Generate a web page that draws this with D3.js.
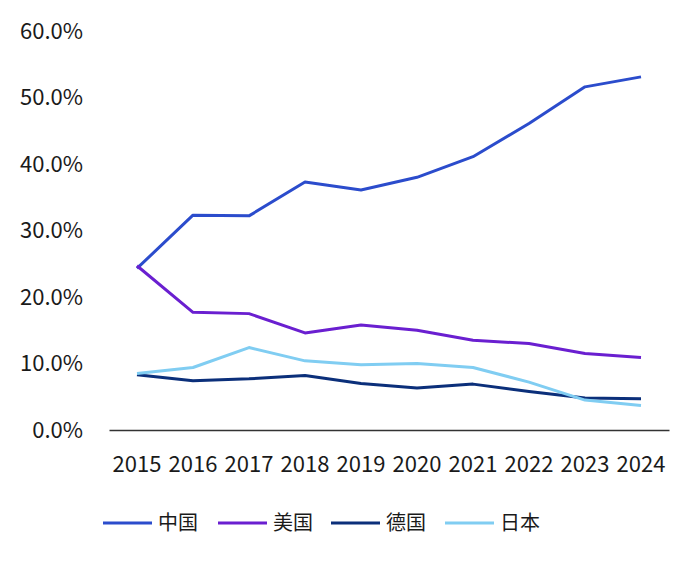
<!DOCTYPE html>
<html>
<head>
<meta charset="utf-8">
<script src="https://cdn.jsdelivr.net/npm/d3@7"></script>
<style>
	body { margin: 0; background: #fff; }
	svg text { font-family: "Noto Sans CJK SC", "Noto Sans", sans-serif; fill: #1a1a1a; }
</style>
</head>
<body>
<svg id="chart" width="700" height="567"></svg>
<script>
	// data (percent)
	const years = [ '2015', '2016', '2017', '2018', '2019', '2020', '2021', '2022', '2023', '2024' ];
	const seriesNames = [ '中国', '美国', '德国', '日本' ];
	const china   = [ 24.3, 32.3, 32.2, 37.3, 36.1, 38.0, 41.1, 46.1, 51.6, 53.1 ];
	const usa     = [ 24.7, 17.7, 17.5, 14.6, 15.8, 15.0, 13.5, 13.0, 11.5, 10.9 ];
	const germany = [ 8.3, 7.4, 7.7, 8.2, 7.0, 6.3, 6.9, 5.8, 4.8, 4.7 ];
	const japan   = [ 8.5, 9.4, 12.4, 10.4, 9.8, 10.0, 9.4, 7.2, 4.5, 3.7 ];
	const yTicks  = [ 0, 10, 20, 30, 40, 50, 60 ];
	const colors  = [ '#2b4ccc', '#6a1fd0', '#0b2f7a', '#80cdf2' ];

	let svg = d3.select( '#chart' ),
		values = [ china, usa, germany, japan ];

	let x = d3.scaleBand().domain( years ).range( [ 109, 669 ] ),
		y = d3.scaleLinear().domain( [ 0, 60 ] ).range( [ 430, 31 ] );

	// y axis labels, no line
	let yAxis = svg.append( 'g' )
		.attr( 'transform', 'translate(83,0)' )
		.call( d3.axisLeft( y ).tickValues( yTicks ).tickSize( 0 ).tickPadding( 0 ).tickFormat( d => d.toFixed( 1 ) + '%' ) );
	yAxis.select( '.domain' ).remove();
	yAxis.selectAll( 'text' ).style( 'font-size', '22px' ).attr( 'fill', '#1a1a1a' );

	// x axis
	let xAxis = svg.append( 'g' )
		.attr( 'transform', 'translate(0,430)' )
		.call( d3.axisBottom( x ).tickSize( 0 ).tickPadding( 26 ) );
	xAxis.select( '.domain' ).attr( 'stroke', '#333' ).attr( 'stroke-width', 1.5 );
	xAxis.selectAll( 'text' ).style( 'font-size', '22px' ).attr( 'fill', '#1a1a1a' );

	// lines
	let line = d3.line()
		.x( ( d, i ) => x( years[ i ] ) + x.bandwidth() / 2 )
		.y( d => y( d ) );

	svg.append( 'g' ).selectAll( 'path' ).data( values )
		.enter().append( 'path' )
		.attr( 'd', line )
		.attr( 'fill', 'none' )
		.attr( 'stroke', ( d, i ) => colors[ i ] )
		.attr( 'stroke-width', 3 )
		.attr( 'stroke-linejoin', 'round' );

	// legend
	let legend = svg.append( 'g' ).attr( 'transform', 'translate(103,523)' ),
		item = legend.selectAll( 'g' ).data( seriesNames )
			.enter().append( 'g' )
			.attr( 'transform', ( d, i ) => 'translate(' + ( [ 0, 115, 228, 342 ][ i ] ) + ',0)' );

	item.append( 'line' )
		.attr( 'x1', 0 ).attr( 'x2', 49 )
		.attr( 'stroke', ( d, i ) => colors[ i ] )
		.attr( 'stroke-width', 3 );

	item.append( 'text' )
		.attr( 'x', 55 )
		.attr( 'dy', '0.35em' )
		.style( 'font-size', '20px' )
		.text( d => d );
</script>
</body>
</html>
